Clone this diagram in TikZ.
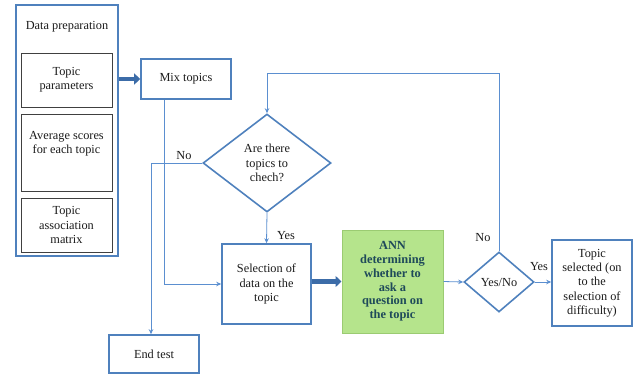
\documentclass[tikz,border=0pt]{standalone}
\usepackage{fontspec}
\setmainfont{Liberation Serif}
\usetikzlibrary{shapes.geometric,arrows.meta,calc,shadows}
\definecolor{bblue}{HTML}{4F81BD}
\definecolor{lblue}{HTML}{5B8FD0}
\definecolor{tblue}{HTML}{3C6CA8}
\definecolor{anngreen}{HTML}{B5E48C}
\definecolor{annedge}{HTML}{9BCB72}
\definecolor{anntext}{HTML}{1F4A5A}
\definecolor{txt}{HTML}{1A1A1A}
\tikzset{
  base/.style={font=\fontsize{12.3}{14.3}\selectfont, text=txt, align=center, inner sep=0pt},
  bluebox/.style={base, draw=bblue, line width=1.6pt, rectangle},
  innerbox/.style={base, draw=black!75, line width=0.8pt, rectangle},
  decision/.style={base, draw=bblue, line width=1.6pt, diamond},
  conn/.style={draw=lblue, line width=0.8pt, -{Stealth[length=5pt,width=4.5pt]}},
  thick arrow/.style={draw=tblue, line width=4.5pt, -{Triangle[length=6pt,width=11pt]}},
  lbl/.style={font=\fontsize{12.3}{14}\selectfont, text=txt, inner sep=0pt},
}
\begin{document}
\begin{tikzpicture}[x=1pt,y=-1pt]
\useasboundingbox (0,0) rectangle (638,376);

% Data preparation group
\node[bluebox, minimum width=102pt, minimum height=251pt] (dp) at (67,130.5) {};
\node[base] (dpt) at (67,27) {Data preparation};
\node[innerbox, minimum width=91pt, minimum height=54pt] (tp) at (66.5,80) {Topic\\parameters};
\node[innerbox, minimum width=91pt, minimum height=77pt] (avg) at (66.5,152.5) {Average scores\\for each topic\\[6pt]};
\node[innerbox, minimum width=91pt, minimum height=54pt] (assoc) at (66.5,225) {Topic\\association\\matrix};

% Main nodes
\node[bluebox, minimum width=90pt, minimum height=40pt] (mix) at (186,79) {Mix topics};
\node[decision, minimum width=128pt, minimum height=98pt] (q) at (267,163) {Are there\\topics to\\chech?};
\node[bluebox, minimum width=89pt, minimum height=80pt] (sel) at (266.5,284) {Selection of\\data on the\\topic};
\node[base, rectangle, fill=anngreen, draw=annedge, line width=1pt,
      minimum width=101pt, minimum height=103pt, text=anntext,
      font=\fontsize{12.4}{13.8}\selectfont\bfseries,
      drop shadow={opacity=0.3, shadow xshift=1.2pt, shadow yshift=-1.2pt}] (ann) at (392.5,281.5)
      {ANN\\determining\\whether to\\ask a\\question on\\the topic};
\node[decision, minimum width=70pt, minimum height=60pt] (yn) at (499,282) {Yes/No};
\node[bluebox, minimum width=80pt, minimum height=86pt] (ts) at (592,283) {Topic\\selected (on\\to the\\selection of\\difficulty)};
\node[bluebox, minimum width=90pt, minimum height=38pt] (end) at (154,354) {End test};

\coordinate (loop) at (499,73);

% Connectors
\draw[thick arrow] (dp.east |- mix.west) -- (mix.west);
\draw[conn] ([xshift=-22pt]mix.south) |- (sel.west);
\draw[conn] (q.south) -- (sel.north);
\draw[conn] (q.west) -| ([xshift=-3pt]end.north);
\draw[thick arrow] (sel.east |- ann.west) -- (ann.west);
\draw[conn] (ann.east) -- (yn.west);
\draw[conn] (yn.east) -- (yn.east -| ts.west);
\draw[conn] (yn.north) |- (q.north |- loop) -- (q.north);

% Labels
\node[lbl] (lno1) at (184,156) {No};
\node[lbl] (lyes1) at (286,236) {Yes};
\node[lbl] (lno2) at (483,238) {No};
\node[lbl] (lyes2) at (539,267) {Yes};
\end{tikzpicture}
\end{document}
